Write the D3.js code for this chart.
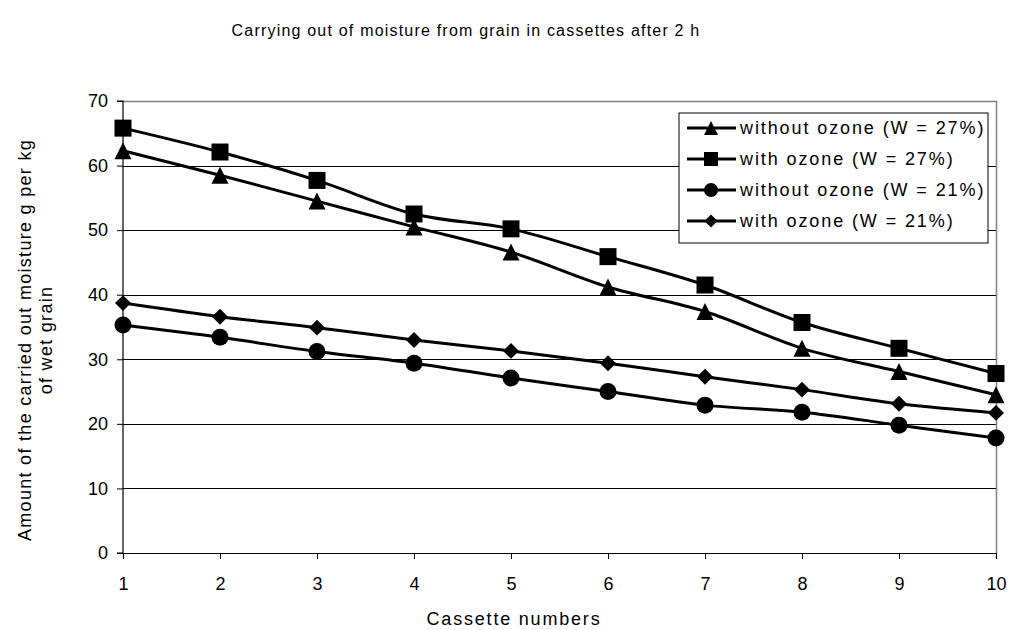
<!DOCTYPE html>
<html>
<head>
<meta charset="utf-8">
<script src="https://cdn.jsdelivr.net/npm/d3@7"></script>
<style>
  body { margin: 0; background: #fff; }
  text { font-family: "Liberation Sans", Arial, sans-serif; fill: #000; }
</style>
</head>
<body>
<svg id="chart" width="1010" height="630"></svg>
<script>
// cassette numbers on x
var cassettes = [1, 2, 3, 4, 5, 6, 7, 8, 9, 10];
var yTicks = [0, 10, 20, 30, 40, 50, 60, 70];

var seriesNames = ['without ozone (W = 27%)', 'with ozone (W = 27%)', 'without ozone (W = 21%)', 'with ozone (W = 21%)'];
var seriesMarkers = ['triangle', 'square', 'circle', 'diamond'];

var noOzone27 = [62.3, 58.5, 54.5, 50.5, 46.6, 41.2, 37.4, 31.7, 28.1, 24.5];
var ozone27 = [65.8, 62.1, 57.7, 52.5, 50.2, 45.9, 41.5, 35.7, 31.7, 27.8];
var noOzone21 = [35.3, 33.4, 31.2, 29.4, 27.1, 25.0, 22.9, 21.8, 19.8, 17.8];
var ozone21 = [38.7, 36.6, 34.9, 33.0, 31.3, 29.4, 27.3, 25.3, 23.1, 21.7];

var seriesValues = [noOzone27, ozone27, noOzone21, ozone21];

var margin = { left: 123, right: 14, top: 101, bottom: 77 };
var width = 1010 - margin.left - margin.right;
var height = 630 - margin.top - margin.bottom;

var svg = d3.select('#chart');
var g = svg.append('g').attr('transform', 'translate(' + margin.left + ',' + margin.top + ')');

var x = d3.scalePoint().domain(cassettes).range([0, width]);
var y = d3.scaleLinear().domain([0, 70]).range([height, 0]);

// gridlines
g.selectAll('.grid').data(yTicks.filter(function(d) { return d > 0 && d < 70; }))
  .enter().append('line')
  .attr('x1', 0).attr('x2', width)
  .attr('y1', function(d) { return Math.round(y(d)) + 0.5; })
  .attr('y2', function(d) { return Math.round(y(d)) + 0.5; })
  .attr('stroke', '#000').attr('stroke-width', 1);

// plot frame (top/right grey)
g.append('path')
  .attr('d', 'M0,0.5H' + (width + 0.5) + 'V' + height)
  .attr('fill', 'none').attr('stroke', '#808080').attr('stroke-width', 1.5);

var yAxis = g.append('g')
  .call(d3.axisLeft(y).tickValues(yTicks).tickSize(6).tickPadding(9));
var xAxis = g.append('g').attr('transform', 'translate(0,' + height + ')')
  .call(d3.axisBottom(x).tickSize(6).tickPadding(18));

[yAxis, xAxis].forEach(function(ax) {
  ax.select('.domain').attr('stroke', '#000').attr('stroke-width', 1.2);
  ax.selectAll('.tick line').attr('stroke', '#000');
  ax.selectAll('.tick text').style('font-size', '18px').attr('font-family', '"Liberation Sans", Arial, sans-serif');
});
yAxis.select('.domain').attr('d', 'M-6,' + height + 'H0V0H-6');

// marker shapes, size = box width squared
var triangleType = {
  draw: function(ctx, size) {
    var r = Math.sqrt(size) / 2;
    ctx.moveTo(0, -r); ctx.lineTo(r, r); ctx.lineTo(-r, r); ctx.closePath();
  }
};
var diamondType = {
  draw: function(ctx, size) {
    var r = Math.sqrt(size) / 2;
    ctx.moveTo(0, -r); ctx.lineTo(r, 0); ctx.lineTo(0, r); ctx.lineTo(-r, 0); ctx.closePath();
  }
};
var symbolFor = function(kind, w) {
  if (kind === 'triangle') return d3.symbol().type(triangleType).size(w * w)();
  if (kind === 'diamond') return d3.symbol().type(diamondType).size(w * w * 0.88)();
  if (kind === 'circle') return d3.symbol().type(d3.symbolCircle).size(Math.PI * w * w / 4)();
  return d3.symbol().type(d3.symbolSquare).size(w * w)();
};

var line = d3.line()
  .x(function(d, i) { return x(cassettes[i]); })
  .y(function(d) { return y(d); })
  .curve(d3.curveCatmullRom.alpha(0.5));

seriesValues.forEach(function(vals, si) {
  g.append('path').datum(vals)
    .attr('d', line)
    .attr('fill', 'none').attr('stroke', '#000').attr('stroke-width', 3);

  g.selectAll('.m' + si).data(vals).enter().append('path')
    .attr('transform', function(d, i) { return 'translate(' + x(cassettes[i]) + ',' + y(d) + ')'; })
    .attr('d', symbolFor(seriesMarkers[si], 17))
    .attr('fill', '#000');
});

// legend
var legend = svg.append('g').attr('transform', 'translate(679,113)');
legend.append('rect').attr('width', 309).attr('height', 130)
  .attr('fill', '#fff').attr('stroke', '#000').attr('stroke-width', 1);

seriesNames.forEach(function(name, i) {
  var ly = 15 + i * 31;
  legend.append('line').attr('x1', 8).attr('x2', 57).attr('y1', ly).attr('y2', ly)
    .attr('stroke', '#000').attr('stroke-width', 3);
  legend.append('path').attr('transform', 'translate(32,' + ly + ')')
    .attr('d', symbolFor(seriesMarkers[i], 14)).attr('fill', '#000');
  legend.append('text').attr('x', 61).attr('y', ly + 6)
    .style('font-size', '18px').style('letter-spacing', '1.9px')
    .text(name);
});

// titles
svg.append('text').attr('x', 466).attr('y', 36).attr('text-anchor', 'middle')
  .style('font-size', '16px').style('letter-spacing', '1.2px')
  .text('Carrying out of moisture from grain in cassettes after 2 h');

svg.append('text').attr('x', 514).attr('y', 625).attr('text-anchor', 'middle')
  .style('font-size', '18px').style('letter-spacing', '1.8px').text('Cassette numbers');

var yl = svg.append('text').attr('transform', 'translate(31,340) rotate(-90)')
  .attr('text-anchor', 'middle').style('font-size', '18px').style('letter-spacing', '1.3px');
yl.append('tspan').attr('x', 0).attr('dy', 0).text('Amount of the carried out moisture g per kg');
yl.append('tspan').attr('x', 0).attr('dy', 21).text('of wet grain');
</script>
</body>
</html>
